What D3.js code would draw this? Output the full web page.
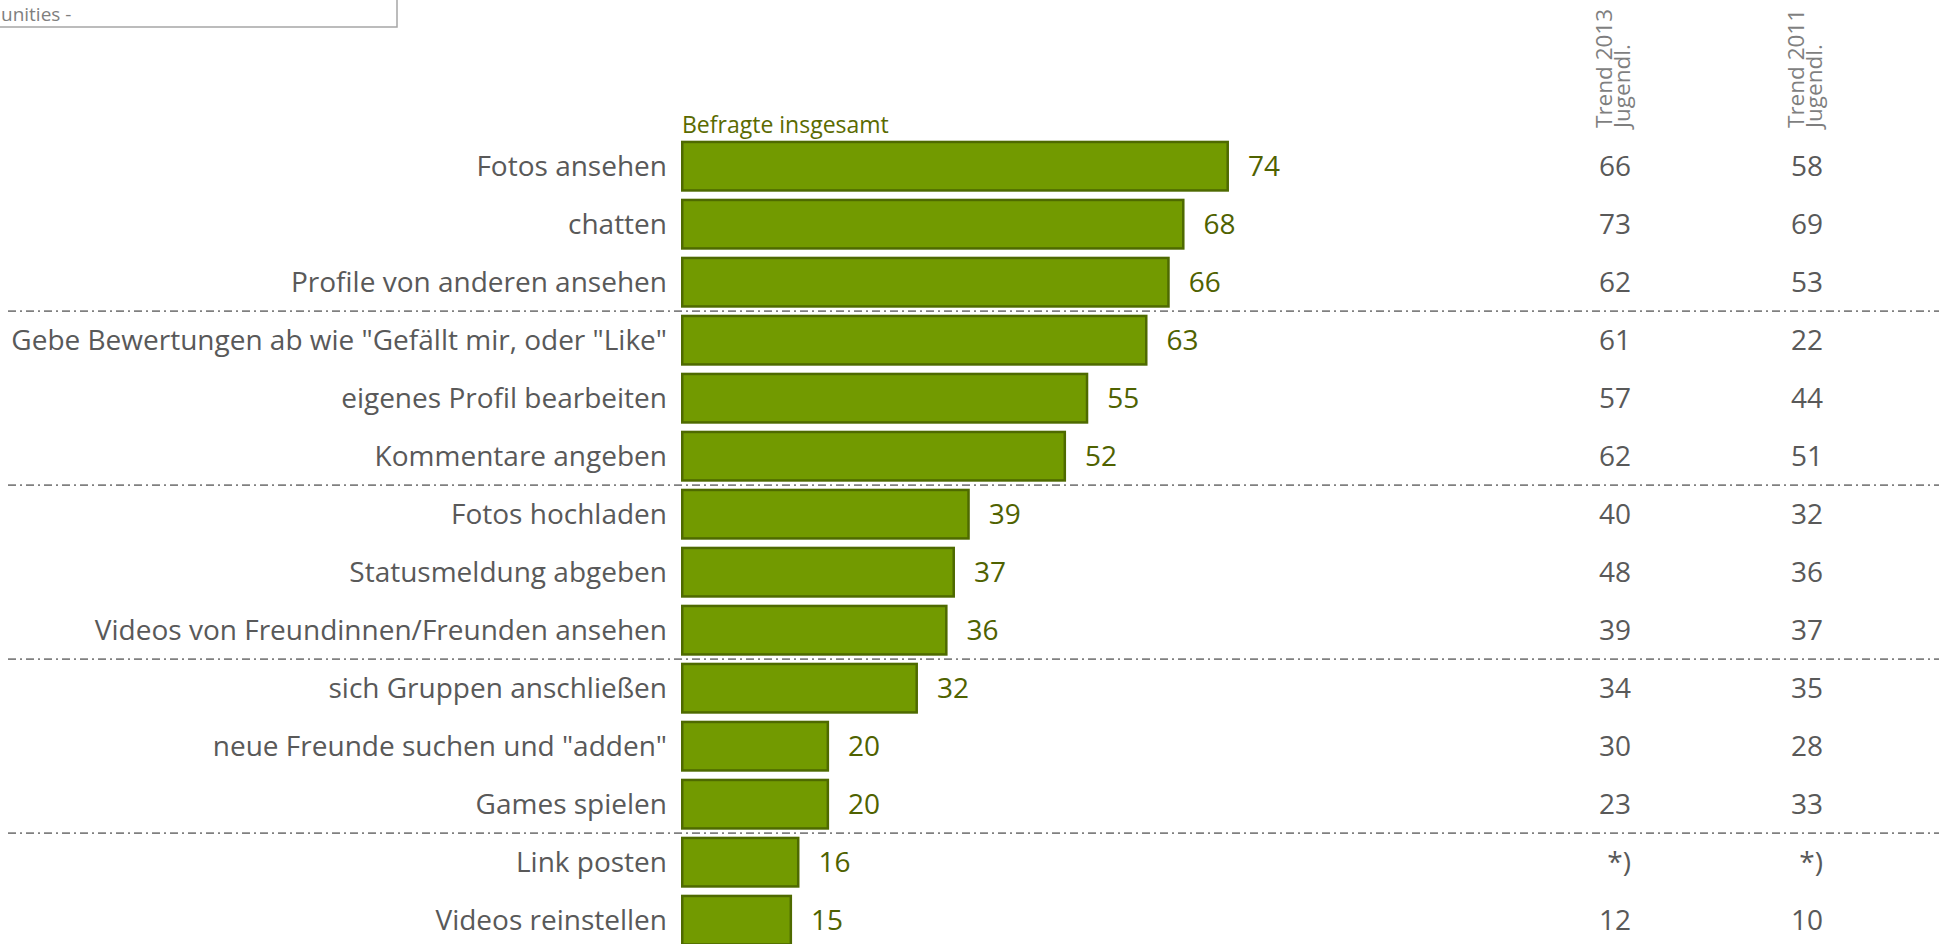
<!DOCTYPE html>
<html>
<head>
<meta charset="utf-8">
<script src="https://cdn.jsdelivr.net/npm/d3@7"></script>
<style>
  html, body { margin: 0; padding: 0; background: #fff; overflow: hidden; }
  svg { display: block; font-family: 'Open Sans', sans-serif; }
</style>
</head>
<body>
<div id="stage"></div>
<script>
// Kategorien und Werte (Prozent)
const categories = [
    'Fotos ansehen',
    'chatten',
    'Profile von anderen ansehen',
    'Gebe Bewertungen ab wie "Gefällt mir, oder "Like"',
    'eigenes Profil bearbeiten',
    'Kommentare angeben',
    'Fotos hochladen',
    'Statusmeldung abgeben',
    'Videos von Freundinnen/Freunden ansehen',
    'sich Gruppen anschließen',
    'neue Freunde suchen und "adden"',
    'Games spielen',
    'Link posten',
    'Videos reinstellen'
];
const totals = [74, 68, 66, 63, 55, 52, 39, 37, 36, 32, 20, 20, 16, 15];
const trend2013 = ['66', '73', '62', '61', '57', '62', '40', '48', '39', '34', '30', '23', '*)', '12'];
const trend2011 = ['58', '69', '53', '22', '44', '51', '32', '36', '37', '35', '28', '33', '*)', '10'];
const trendHeaders = [['Trend 2013', 'Jugendl.'], ['Trend 2011', 'Jugendl.']];
// Trennlinien nach diesen Zeilen
const groupBreaks = [3, 6, 9, 12];

const width = 1939;
const height = 944;

const svg = d3.select('#stage')
                .append('svg')
                .attr('width', width)
                .attr('height', height)
                .attr('viewBox', [0, 0, width, height]);

const x = d3.scaleLinear().domain([0, 100]).range([681, 1421.5]);
const y = d3.scaleBand()
              .domain(categories)
              .range([137.2, 137.2 + 58 * categories.length])
              .paddingInner(7 / 58)
              .paddingOuter(3.5 / 58);

// Kasten oben links (abgeschnitten)
svg.append('rect')
    .attr('x', -2)
    .attr('y', -40)
    .attr('width', 399)
    .attr('height', 67)
    .attr('fill', '#fff')
    .attr('stroke', '#a6a6a6')
    .attr('stroke-width', 1.5);

svg.append('text')
    .attr('x', 1)
    .attr('y', 21)
    .attr('fill', '#7f7f7f')
    .style('font-size', '19px')
    .text('unities -');

// Trennlinien
svg.append('g')
    .selectAll('line')
    .data(groupBreaks)
    .join('line')
    .attr('x1', 8)
    .attr('x2', width)
    .attr('y1', d => y(categories[d]) - y.step() * y.paddingInner() / 2)
    .attr('y2', d => y(categories[d]) - y.step() * y.paddingInner() / 2)
    .attr('stroke', '#808080')
    .attr('stroke-width', 1.7)
    .attr('stroke-dasharray', '8,4,2,4');

// Balken
const sw = 2.5;
svg.append('g')
    .selectAll('rect')
    .data(totals)
    .join('rect')
    .attr('x', x(0) + sw / 2)
    .attr('y', (d, i) => y(categories[i]) + sw / 2)
    .attr('width', d => x(d) - x(0) - sw)
    .attr('height', y.bandwidth() - sw)
    .attr('fill', '#729a00')
    .attr('stroke', '#4e6a00')
    .attr('stroke-width', sw);

// Wertbeschriftungen
svg.append('g')
    .selectAll('text')
    .data(totals)
    .join('text')
    .attr('x', d => x(d) + 19)
    .attr('y', (d, i) => y(categories[i]) + y.bandwidth() / 2)
    .attr('dy', '0.36em')
    .attr('fill', '#4f6200')
    .style('font-size', '28px')
    .text(d => d);

// Kategorien
svg.append('g')
    .selectAll('text')
    .data(categories)
    .join('text')
    .attr('x', 667)
    .attr('y', d => y(d) + y.bandwidth() / 2)
    .attr('dy', '0.36em')
    .attr('text-anchor', 'end')
    .attr('fill', '#595959')
    .style('font-size', '28px')
    .text(d => d);

svg.append('text')
    .attr('x', 682)
    .attr('y', 133)
    .attr('fill', '#5a6a00')
    .style('font-size', '23px')
    .text('Befragte insgesamt');

// Trendspalten
const trendX = [1631, 1823];
[trend2013, trend2011].forEach((col, c) => {
    svg.append('g')
        .selectAll('text')
        .data(col)
        .join('text')
        .attr('x', trendX[c])
        .attr('y', (d, i) => y(categories[i]) + y.bandwidth() / 2)
        .attr('dy', '0.36em')
        .attr('text-anchor', 'end')
        .attr('fill', '#595959')
        .style('font-size', '28px')
        .text(d => d);

    const head = svg.append('text')
        .attr('transform', `translate(${trendX[c] - 19},128) rotate(-90)`)
        .attr('fill', '#7f7f7f')
        .style('font-size', '22.5px');
    head.selectAll('tspan')
        .data(trendHeaders[c])
        .join('tspan')
        .attr('x', 0)
        .attr('dy', (d, i) => i === 0 ? 0 : 18)
        .text(d => d);
});
</script>
</body>
</html>
